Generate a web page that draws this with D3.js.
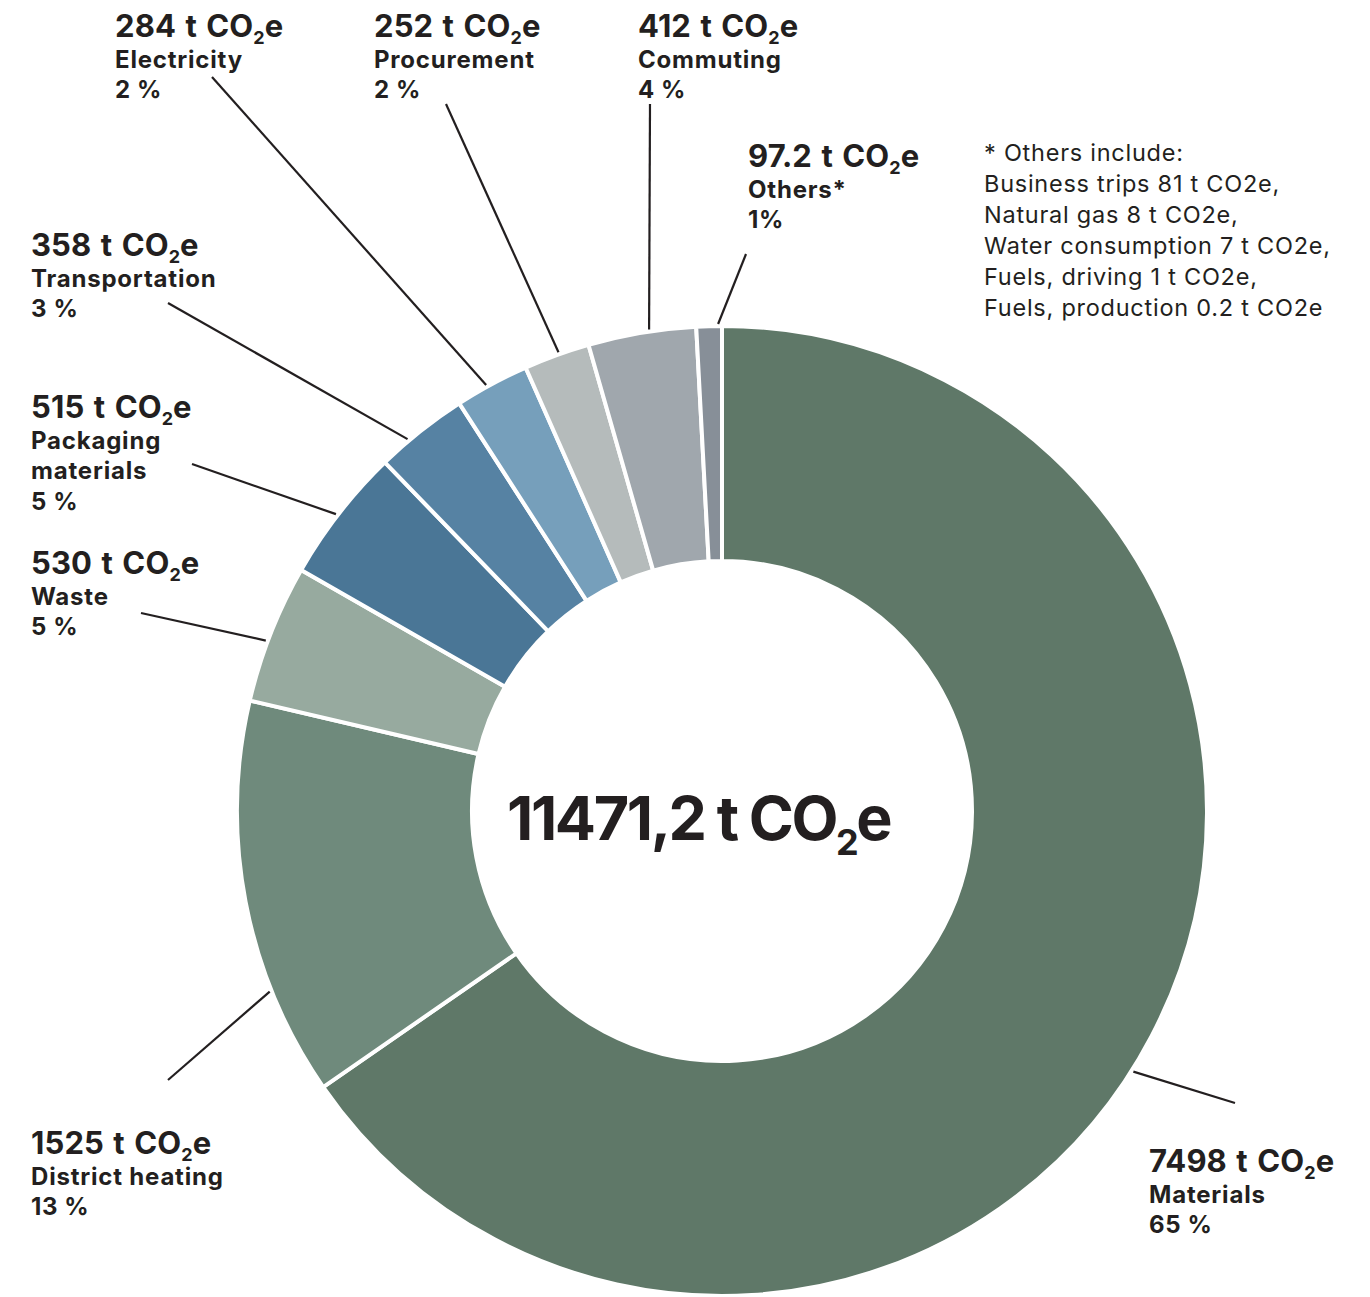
<!DOCTYPE html>
<html>
<head>
<meta charset="utf-8">
<script src="https://cdn.jsdelivr.net/npm/d3@7"></script>
<style>
  html, body { margin: 0; padding: 0; background: #fff; }
  svg { display: block; }
</style>
</head>
<body>
<svg id="chart" width="1370" height="1297"></svg>
<script>
// ---- Data ----
const categories = ["Materials", "District heating", "Waste", "Packaging materials", "Transportation", "Electricity", "Procurement", "Commuting", "Others*"];
const values = [7498, 1525, 530, 515, 358, 284, 252, 412, 97.2];
const valueLabels = ["7498", "1525", "530", "515", "358", "284", "252", "412", "97.2"];
const percentLabels = ["65 %", "13 %", "5 %", "5 %", "3 %", "2 %", "2 %", "4 %", "1%"];
const totalLabel = "11471,2";
const footnoteLines = [
  "* Others include:",
  "Business trips 81 t CO2e,",
  "Natural gas 8 t CO2e,",
  "Water consumption 7 t CO2e,",
  "Fuels, driving 1 t CO2e,",
  "Fuels, production 0.2 t CO2e"
];

// ---- Style / layout ----
const colors = ["#5f7868", "#6f8a7c", "#97aa9f", "#4a7696", "#5682a3", "#769fbb", "#b5bbbb", "#a0a7ad", "#878f98"];
// label block: left x, first baseline y; name lines; leader end point; anchor fraction within slice
const labelLayout = [
  { x: 1149, y: 1172, lines: ["Materials"], end: [1235, 1103], frac: 0.52 },
  { x: 31, y: 1154, lines: ["District heating"], end: [168, 1080], frac: 0.27 },
  { x: 31, y: 574, lines: ["Waste"], end: [141, 613], frac: 0.44 },
  { x: 31, y: 418, lines: ["Packaging", "materials"], end: [192, 464], frac: 0.48 },
  { x: 31, y: 256, lines: ["Transportation"], end: [168, 303], frac: 0.34 },
  { x: 115, y: 37, lines: ["Electricity"], end: [212, 77], frac: 0.43 },
  { x: 374, y: 37, lines: ["Procurement"], end: [446, 104], frac: 0.54 },
  { x: 638, y: 37, lines: ["Commuting"], end: [650, 104], frac: 0.57 },
  { x: 748, y: 167, lines: ["Others*"], end: [746, 254], frac: 0.85 }
];

const FONT = "Inter, 'Liberation Sans', Arial, sans-serif";
const cx = 722, cy = 811, R = 485, r = 250;
const lineGap = 30.5;

const svg = d3.select("#chart");
const g = svg.append("g").attr("transform", `translate(${cx},${cy})`);

const pie = d3.pie().sort(null).value(d => d)(values);
const arc = d3.arc().innerRadius(r).outerRadius(R);

g.selectAll("path.slice")
  .data(pie)
  .join("path")
  .attr("class", "slice")
  .attr("d", arc)
  .attr("fill", (d, i) => colors[i])
  .attr("stroke", "#fff")
  .attr("stroke-width", 4)
  .attr("stroke-linejoin", "miter");

// leader lines
g.selectAll("line.leader")
  .data(pie)
  .join("line")
  .attr("class", "leader")
  .each(function (d, i) {
    const L = labelLayout[i];
    const a = d.startAngle + (d.endAngle - d.startAngle) * L.frac;
    const sx = Math.sin(a) * (R + 2), sy = -Math.cos(a) * (R + 2);
    d3.select(this)
      .attr("x1", sx).attr("y1", sy)
      .attr("x2", L.end[0] - cx).attr("y2", L.end[1] - cy);
  })
  .attr("stroke", "#231f20")
  .attr("stroke-width", 2.2);

// labels
function co2(sel, prefix, subSize, subDy) {
  sel.append("tspan").text(prefix + " t CO");
  sel.append("tspan").attr("font-size", subSize).attr("dy", subDy).text("2");
  sel.append("tspan").attr("dy", -subDy).text("e");
}

const labels = svg.append("g").attr("font-family", FONT).attr("fill", "#231f20");
categories.forEach((c, i) => {
  const L = labelLayout[i];
  const t1 = labels.append("text")
    .attr("x", L.x).attr("y", L.y)
    .attr("font-size", 31).attr("font-weight", 700)
    .attr("letter-spacing", 0.1)
    .attr("word-spacing", 2);
  co2(t1, valueLabels[i], 18, 7);
  L.lines.forEach((ln, k) => {
    labels.append("text")
      .attr("x", L.x).attr("y", L.y + lineGap * (k + 1))
      .attr("font-size", 24).attr("font-weight", 700)
      .attr("letter-spacing", 0.8)
      .text(ln);
  });
  labels.append("text")
    .attr("x", L.x).attr("y", L.y + lineGap * (L.lines.length + 1))
    .attr("font-size", 24).attr("font-weight", 700)
    .attr("letter-spacing", 0.6)
    .text(percentLabels[i]);
});

// center total
const ct = svg.append("text")
  .attr("x", 507).attr("y", 840)
  .attr("font-family", FONT)
  .attr("font-size", 61).attr("font-weight", 700)
  .attr("letter-spacing", -2.4)
  .attr("fill", "#231f20");
co2(ct, totalLabel, 36, 15);

// footnote
svg.append("g").attr("font-family", FONT).attr("fill", "#231f20")
  .selectAll("text")
  .data(footnoteLines)
  .join("text")
  .attr("x", 984)
  .attr("y", (d, i) => 161 + i * 31)
  .attr("font-size", 23.5)
  .attr("font-weight", 400)
  .attr("letter-spacing", 0.75)
  .text(d => d);
</script>
</body>
</html>
